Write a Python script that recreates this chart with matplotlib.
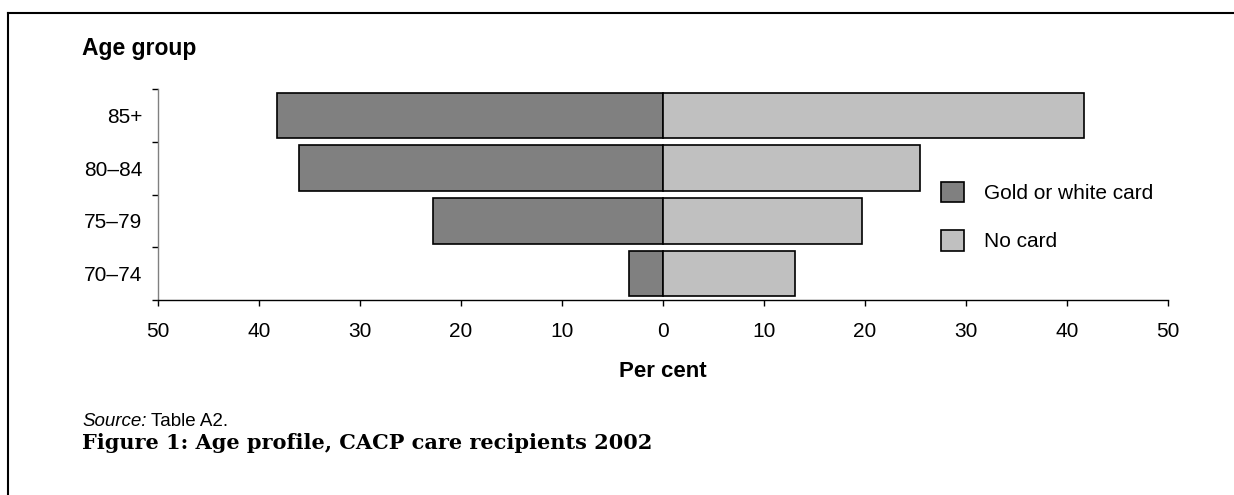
import numpy as np
import matplotlib.pyplot as plt
from matplotlib.lines import Line2D

plt.rcParams['font.family'] = ['Liberation Sans', 'DejaVu Sans']

# data (bottom to top)
ages = ['70–74', '75–79', '80–84', '85+']
gold_card = [3.4, 22.8, 36.0, 38.2]
no_card = [13.1, 19.7, 25.4, 41.7]
ticks = [-50, -40, -30, -20, -10, 0, 10, 20, 30, 40, 50]
tick_labels = [str(abs(t)) for t in ticks]

W, H = 1234, 495
fig = plt.figure(figsize=(W / 100, H / 100), dpi=100)
# axes placed in pixels: left 158, right 1168, top 89, bottom 300
ax = fig.add_axes([158 / W, 1 - 300 / H, (1168 - 158) / W, (300 - 89) / H])

y = np.arange(len(ages))
ax.barh(y, [-v for v in gold_card], height=0.86, color='#808080',
        edgecolor='black', linewidth=1.2, label='Gold or white card')
ax.barh(y, no_card, height=0.86, color='#c0c0c0',
        edgecolor='black', linewidth=1.2, label='No card')

ax.set_xlim(-50, 50)
ax.set_ylim(-0.5, 3.5)
ax.set_xticks(ticks)
ax.set_xticklabels(tick_labels, fontsize=15)
ax.set_yticks(y)
ax.set_yticklabels(ages, fontsize=15)
ax.set_yticks(np.arange(-0.5, 4, 1), minor=True)
ax.tick_params(axis='y', which='major', length=0, pad=11.5)
ax.tick_params(axis='y', which='minor', length=4, width=1, direction='out')
ax.tick_params(axis='x', length=4, width=1, pad=12)
ax.spines['top'].set_visible(False)
ax.spines['right'].set_visible(False)
ax.spines['left'].set_color('#808080')
ax.spines['left'].set_linewidth(1)
ax.spines['bottom'].set_linewidth(1)

ax.set_xlabel('Per cent', fontsize=16, fontweight='bold', labelpad=14)

leg = ax.legend(loc='upper left', bbox_to_anchor=(941 / W, 1 - 182 / H),
                bbox_transform=fig.transFigure, frameon=False, fontsize=15,
                handlelength=1.1, handleheight=1.12, handletextpad=0.95,
                labelspacing=1.3, borderpad=0, borderaxespad=0)

fig.text(82 / W, 1 - 48 / H, 'Age group', fontsize=16.5, fontweight='bold',
         va='center', ha='left')
src = fig.text(82 / W, 1 - 422 / H, 'Source:', fontsize=13.5, style='italic',
               va='center', ha='left')
ax.annotate('Table A2.', xy=(1, 0.5), xycoords=src, xytext=(3, 0),
            textcoords='offset points', fontsize=13.5, va='center', ha='left',
            annotation_clip=False)
fig.text(82 / W, 1 - 443 / H, 'Figure 1: Age profile, CACP care recipients 2002',
         fontsize=15, fontweight='bold', family=['DejaVu Serif'],
         va='center', ha='left')

# outer frame (left and top edges)
fig.add_artist(Line2D([8 / W, 8 / W], [0, 1 - 13 / H], color='black', lw=1.5,
                      transform=fig.transFigure))
fig.add_artist(Line2D([8 / W, 1], [1 - 13 / H, 1 - 13 / H], color='black', lw=1.5,
                      transform=fig.transFigure))

fig.savefig('out.png', dpi=100)
